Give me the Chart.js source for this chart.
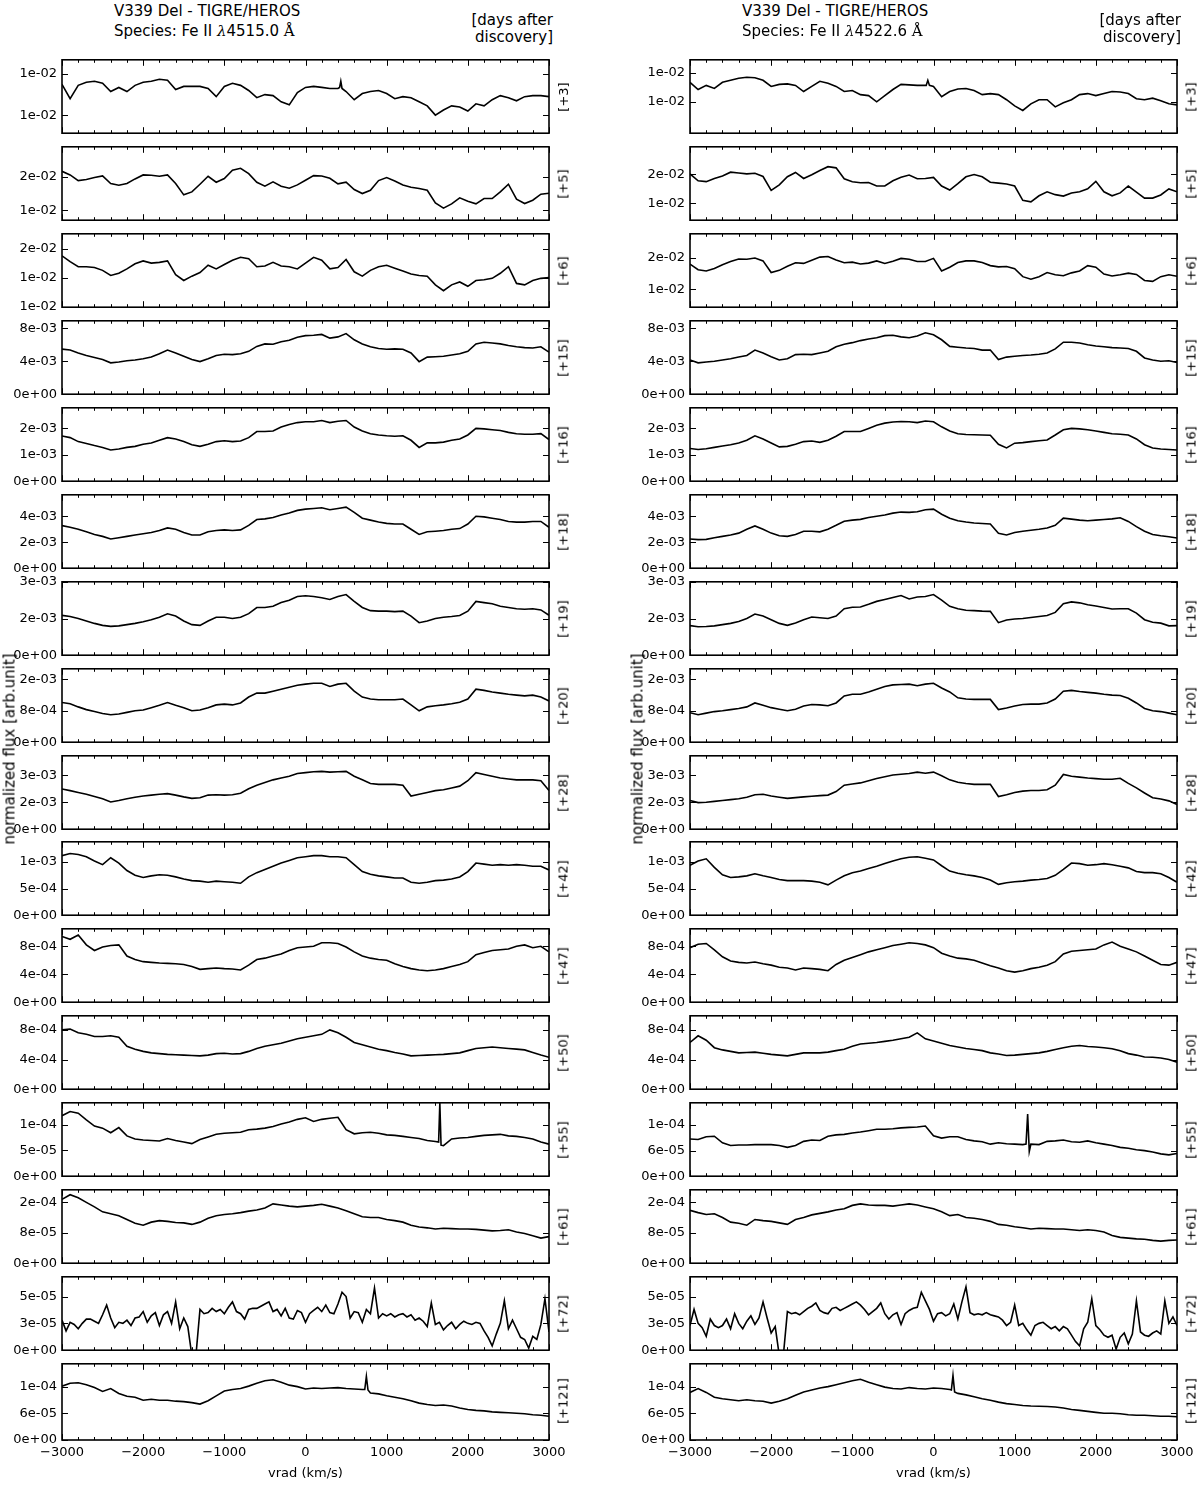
<!DOCTYPE html>
<html>
<head>
<meta charset="utf-8">
<title>V339 Del - Fe II line profiles</title>
<script src="https://cdn.jsdelivr.net/npm/chart.js@4.4.1/dist/chart.umd.min.js"></script>
<style>
  body { margin: 0; background: #fff; }
  #page { position: relative; width: 1200px; height: 1485px; overflow: hidden; font-family: 'DejaVu Sans', sans-serif; color: #000; }
  #page canvas { position: absolute; }
  .txt { position: absolute; white-space: nowrap; line-height: 1; }
  .vert { transform: translate(-50%, -50%) rotate(-90deg); }
</style>
</head>
<body>
<div id="page"></div>
<script>
// ---- sampling grid (radial velocity, km/s) ----
const vrad = [-3000,-2900,-2800,-2700,-2600,-2500,-2400,-2300,-2200,-2100,
  -2000,-1900,-1800,-1700,-1600,-1500,-1400,-1300,-1200,-1100,
  -1000,-900,-800,-700,-600,-500,-400,-300,-200,-100,
  0,100,200,300,400,500,600,700,800,900,
  1000,1100,1200,1300,1400,1500,1600,1700,1800,1900,
  2000,2100,2200,2300,2400,2500,2600,2700,2800,2900,3000];
const vradFine = [-3000,-2950,-2900,-2850,-2800,-2750,-2700,-2650,-2600,-2550,
  -2500,-2450,-2400,-2350,-2300,-2250,-2200,-2150,-2100,-2050,
  -2000,-1950,-1900,-1850,-1800,-1750,-1700,-1650,-1600,-1550,
  -1500,-1450,-1400,-1350,-1300,-1250,-1200,-1150,-1100,-1050,
  -1000,-950,-900,-850,-800,-750,-700,-650,-600,-550,
  -500,-450,-400,-350,-300,-250,-200,-150,-100,-50,
  0,50,100,150,200,250,300,350,400,450,
  500,550,600,650,700,750,800,850,900,950,
  1000,1050,1100,1150,1200,1250,1300,1350,1400,1450,
  1500,1550,1600,1650,1700,1750,1800,1850,1900,1950,
  2000,2050,2100,2150,2200,2250,2300,2350,2400,2450,
  2500,2550,2600,2650,2700,2750,2800,2850,2900,2950,3000];

const days = ['+3','+5','+6','+15','+16','+18','+19','+20','+28','+42','+47','+50','+55','+61','+72','+121'];

// ---- Fe II 4515.0 (left column), flux in panel units ----
const fe4515_d3 = [13.0,11.6,12.9,13.2,13.3,13.1,12.3,12.7,12.3,12.9,13.2,13.3,13.5,13.4,12.5,12.8,12.8,12.8,12.6,11.8,12.8,13.1,12.9,12.4,11.7,12.0,11.9,11.3,11.0,12.2,12.7,12.8,12.7,12.6,12.6,12.3,11.5,12.1,12.3,12.4,12.1,11.6,11.8,11.7,11.3,10.9,10.0,10.5,10.9,10.8,10.4,11.1,10.9,11.5,11.9,11.7,11.4,11.8,11.9,11.9,11.8];
const fe4515_d5 = [21.7,20.6,18.9,19.2,19.8,20.3,18.0,17.5,18.0,19.4,20.6,20.5,20.2,20.6,18.0,14.6,15.5,17.8,20.2,18.4,19.5,22.0,22.6,21.0,18.4,17.2,18.5,17.2,16.6,17.6,19.0,20.4,20.3,19.6,17.9,18.4,16.2,15.0,16.0,18.9,19.8,18.8,17.6,16.9,16.5,16.0,12.2,10.6,11.9,13.7,12.7,11.9,13.5,13.5,15.5,17.8,13.3,12.0,13.0,14.8,15.1];
const fe4515_d6 = [15.5,15.1,14.75,14.75,14.7,14.5,14.15,14.3,14.6,14.95,15.15,15.0,15.05,15.15,14.2,13.8,14.1,14.35,14.85,14.6,14.9,15.2,15.4,15.3,14.75,14.8,15.05,14.8,14.75,14.6,15.0,15.4,15.2,14.6,14.7,15.25,14.4,14.1,14.5,14.75,14.85,14.65,14.45,14.25,14.15,14.1,13.5,13.1,13.5,13.7,13.4,13.8,13.85,13.95,14.3,14.75,13.6,13.5,13.8,13.95,14.0];
const fe4515_d15 = [5.47,5.35,5.0,4.7,4.45,4.2,3.8,3.9,4.05,4.15,4.3,4.5,4.9,5.35,5.0,4.6,4.2,3.95,4.3,4.7,4.85,4.8,4.9,5.2,5.8,6.1,6.05,6.35,6.55,6.9,7.1,7.15,7.25,6.8,6.95,7.35,6.6,6.1,5.75,5.55,5.45,5.5,5.45,5.0,3.95,4.5,4.55,4.6,4.75,4.9,5.2,6.1,6.3,6.2,6.1,5.9,5.75,5.65,5.6,5.75,5.1];
const fe4515_d16 = [1.71,1.65,1.5,1.43,1.35,1.28,1.18,1.22,1.28,1.32,1.4,1.45,1.55,1.65,1.6,1.5,1.38,1.32,1.4,1.5,1.53,1.5,1.52,1.65,1.88,1.88,1.9,2.05,2.15,2.22,2.25,2.25,2.3,2.22,2.27,2.3,2.05,1.9,1.8,1.75,1.72,1.7,1.72,1.55,1.28,1.45,1.45,1.48,1.55,1.6,1.75,2.0,1.98,1.95,1.92,1.85,1.8,1.78,1.78,1.8,1.58];
const fe4515_d18 = [3.28,3.15,3.0,2.8,2.6,2.45,2.25,2.35,2.45,2.55,2.65,2.75,2.9,3.1,3.0,2.75,2.55,2.55,2.8,2.9,2.95,2.9,2.95,3.3,3.75,3.8,3.9,4.1,4.25,4.45,4.55,4.6,4.65,4.5,4.6,4.7,4.3,3.85,3.7,3.55,3.45,3.4,3.4,3.0,2.6,2.8,2.85,2.9,3.0,3.05,3.4,4.0,3.95,3.85,3.75,3.6,3.55,3.55,3.6,3.6,3.15];
const fe4515_d19 = [1.63,1.58,1.5,1.4,1.3,1.22,1.18,1.2,1.25,1.3,1.37,1.45,1.55,1.69,1.6,1.4,1.25,1.22,1.4,1.55,1.55,1.5,1.55,1.7,1.95,1.95,2.0,2.15,2.25,2.4,2.43,2.4,2.35,2.28,2.4,2.48,2.2,1.95,1.82,1.8,1.8,1.78,1.8,1.6,1.33,1.4,1.5,1.55,1.58,1.62,1.8,2.2,2.15,2.1,2.0,1.95,1.9,1.88,1.9,1.85,1.63];
const fe4515_d20 = [1.01,0.98,0.9,0.83,0.78,0.73,0.7,0.72,0.76,0.8,0.82,0.88,0.94,1.01,0.94,0.88,0.8,0.82,0.88,0.95,0.97,0.95,1.0,1.15,1.25,1.25,1.3,1.35,1.4,1.45,1.48,1.5,1.5,1.42,1.48,1.5,1.3,1.15,1.1,1.08,1.08,1.08,1.1,0.95,0.8,0.9,0.93,0.95,0.98,1.02,1.1,1.35,1.32,1.28,1.25,1.22,1.2,1.18,1.2,1.15,1.05];
const fe4515_d28 = [2.24,2.15,2.05,1.95,1.82,1.7,1.52,1.6,1.7,1.78,1.85,1.9,1.95,1.98,1.9,1.8,1.72,1.75,1.9,1.92,1.9,1.92,2.0,2.25,2.45,2.6,2.75,2.85,2.95,3.1,3.15,3.2,3.22,3.18,3.2,3.22,2.95,2.75,2.55,2.5,2.5,2.5,2.45,1.85,1.95,2.05,2.15,2.2,2.3,2.4,2.7,3.15,3.05,2.95,2.85,2.8,2.75,2.75,2.75,2.7,2.16];
const fe4515_d42 = [1.12,1.16,1.14,1.1,1.02,0.95,1.08,0.98,0.84,0.75,0.71,0.74,0.76,0.75,0.72,0.68,0.65,0.64,0.62,0.64,0.63,0.62,0.6,0.72,0.8,0.86,0.92,0.98,1.03,1.08,1.1,1.12,1.12,1.1,1.1,1.08,0.95,0.82,0.77,0.74,0.72,0.7,0.7,0.62,0.6,0.62,0.65,0.66,0.68,0.72,0.82,0.98,0.96,0.94,0.95,0.94,0.95,0.94,0.92,0.92,0.85];
const fe4515_d47 = [9.4,9.0,9.6,8.2,7.4,7.9,8.1,8.2,6.6,6.1,5.8,5.7,5.6,5.55,5.5,5.4,5.1,4.7,4.8,4.9,4.8,4.75,4.6,5.3,6.1,6.3,6.6,6.9,7.4,7.8,7.9,8.0,8.5,8.5,8.4,7.9,7.2,6.6,6.3,6.1,6.0,5.5,5.1,4.8,4.6,4.5,4.6,4.8,5.1,5.4,5.8,6.8,7.1,7.4,7.5,7.6,8.0,8.2,7.8,8.0,7.2];
const fe4515_d50 = [8.0,8.1,7.6,7.4,7.1,7.1,7.2,7.0,5.8,5.4,5.1,4.9,4.8,4.7,4.65,4.6,4.55,4.5,4.6,4.8,4.85,4.75,4.8,5.1,5.5,5.8,6.0,6.2,6.5,6.8,7.0,7.2,7.4,8.0,7.6,7.0,6.3,6.0,5.7,5.4,5.2,4.95,4.75,4.5,4.55,4.6,4.65,4.7,4.8,4.9,5.2,5.5,5.6,5.7,5.6,5.5,5.4,5.3,4.95,4.6,4.3];
const fe4515_d55 = [11.7,12.5,12.2,10.9,9.7,9.3,8.4,9.4,7.8,7.2,7.0,6.9,6.8,7.3,6.9,6.6,6.3,7.1,7.6,8.1,8.3,8.4,8.5,9.0,9.1,9.3,9.6,10.1,10.5,11.0,11.3,10.6,11.0,11.2,11.4,9.0,8.2,8.4,8.5,8.3,8.0,7.9,7.7,7.5,7.3,6.9,6.7,5.9,7.2,7.4,7.5,7.7,7.9,8.0,8.1,7.8,7.7,7.5,7.2,6.6,6.2];
const fe4515_d61 = [1.68,1.8,1.72,1.6,1.48,1.35,1.3,1.25,1.15,1.05,1.0,1.08,1.12,1.1,1.07,1.06,1.02,1.08,1.18,1.25,1.28,1.3,1.33,1.37,1.4,1.45,1.56,1.53,1.5,1.48,1.5,1.52,1.55,1.5,1.45,1.38,1.3,1.22,1.2,1.2,1.15,1.12,1.08,1.0,0.95,0.93,0.9,0.92,0.91,0.9,0.9,0.89,0.87,0.85,0.86,0.88,0.82,0.78,0.72,0.66,0.7];
const fe4515_d72 = [2.8,1.8,2.6,2.4,2.0,2.5,2.9,2.9,2.7,2.5,3.3,4.2,3.0,2.1,2.6,2.5,2.8,2.3,3.0,3.1,
  3.6,2.6,3.2,3.5,2.3,3.3,3.6,2.5,4.5,2.0,3.0,2.2,-0.5,-0.5,3.8,3.4,3.5,3.9,3.6,3.8,
  3.4,4.0,4.5,3.6,3.4,2.9,3.8,3.9,3.9,4.1,4.3,4.5,3.6,3.8,3.2,3.9,3.0,2.9,3.7,3.5,
  2.6,3.4,3.7,4.0,3.6,4.2,3.5,3.4,4.3,5.4,5.0,3.0,3.6,3.5,2.6,3.8,3.4,5.8,3.0,3.4,
  3.2,3.4,3.1,3.3,3.4,3.1,3.3,2.8,3.0,2.7,2.2,4.4,2.4,2.6,1.9,2.3,2.6,2.0,2.4,2.7,
  2.5,2.4,2.6,2.5,1.8,1.2,0.4,1.5,2.5,4.6,2.0,2.8,2.0,1.2,1.0,0.2,1.3,1.0,2.4,4.8,1.7];
const fe4515_d121 = [11.1,11.7,11.8,11.4,10.8,10.0,10.6,9.6,9.0,8.8,8.2,8.4,8.2,8.2,8.0,7.9,7.7,7.4,8.1,9.1,10.1,10.4,10.6,11.1,11.7,12.2,12.4,11.9,11.3,11.0,10.5,10.7,10.6,10.7,10.8,10.6,10.5,10.4,9.7,9.5,9.1,8.8,8.5,8.1,7.6,7.3,7.1,7.2,7.0,6.6,6.3,6.1,6.0,5.8,5.7,5.6,5.5,5.4,5.2,5.1,4.9];

// ---- Fe II 4522.6 (right column) ----
const fe4522_d3 = [11.9,11.2,11.6,11.3,11.9,12.1,12.3,12.4,12.35,12.1,11.5,11.7,11.75,11.6,11.0,11.5,12.0,11.8,11.5,11.0,11.1,10.7,10.6,10.0,10.6,11.2,11.7,11.65,11.6,11.6,11.5,10.5,11.0,11.25,11.3,11.1,10.7,10.8,10.7,10.2,9.6,9.15,9.8,10.2,10.2,9.5,9.9,10.2,10.7,10.8,10.6,10.8,11.0,10.95,10.8,10.3,10.2,10.35,10.1,9.8,9.7];
const fe4522_d5 = [20.2,17.8,17.5,18.6,19.5,20.8,20.5,20.2,20.4,19.3,14.5,16.4,19.2,20.7,18.6,19.9,21.4,22.7,22.3,18.5,17.5,17.1,17.2,16.0,16.0,17.8,19.0,19.8,18.5,18.6,19.0,16.0,14.6,16.8,19.2,20.0,19.2,17.3,17.0,16.7,16.0,11.0,10.5,12.6,14.0,13.0,12.5,13.6,14.0,15.0,17.6,14.0,12.6,13.6,16.0,13.9,11.8,11.8,12.9,15.0,14.0];
const fe4522_d6 = [18.0,16.2,15.8,16.6,17.8,18.8,19.6,19.5,19.9,19.0,15.3,16.0,17.3,18.4,18.2,19.2,20.2,20.4,19.3,18.4,18.6,18.0,18.3,19.0,18.2,18.9,19.8,19.5,18.8,18.8,19.8,15.8,17.0,18.5,19.0,19.0,18.5,17.5,17.1,17.2,16.5,14.0,13.2,14.0,15.3,14.6,14.3,15.2,15.8,17.5,17.0,14.8,14.2,14.6,15.1,14.7,12.8,12.5,14.0,14.6,14.1];
const fe4522_d15 = [4.15,3.8,3.9,4.0,4.15,4.3,4.5,4.7,5.35,5.0,4.55,4.15,4.3,4.8,4.85,4.8,5.0,5.2,5.75,6.05,6.25,6.5,6.7,6.85,7.1,7.15,6.95,6.85,7.05,7.45,7.2,6.6,5.8,5.7,5.6,5.55,5.35,5.35,4.2,4.5,4.6,4.7,4.75,4.85,5.0,5.5,6.3,6.3,6.2,6.0,5.85,5.75,5.65,5.6,5.55,5.2,4.4,4.15,4.0,4.05,3.85];
const fe4522_d16 = [1.24,1.2,1.23,1.28,1.33,1.38,1.45,1.55,1.72,1.6,1.45,1.3,1.32,1.4,1.5,1.52,1.47,1.55,1.7,1.88,1.88,1.88,2.0,2.12,2.2,2.24,2.26,2.25,2.22,2.28,2.25,2.06,1.9,1.8,1.77,1.76,1.75,1.74,1.4,1.26,1.44,1.46,1.5,1.53,1.56,1.75,1.95,2.0,1.98,1.95,1.9,1.85,1.8,1.78,1.75,1.6,1.38,1.26,1.22,1.2,1.18];
const fe4522_d18 = [2.25,2.2,2.22,2.35,2.45,2.55,2.7,3.0,3.25,3.0,2.7,2.5,2.45,2.6,2.85,2.85,2.8,3.0,3.3,3.62,3.7,3.76,3.9,4.0,4.1,4.24,4.32,4.3,4.35,4.5,4.55,4.15,3.85,3.65,3.55,3.48,3.44,3.4,2.68,2.56,2.75,2.85,2.92,3.0,3.1,3.3,3.85,3.78,3.7,3.65,3.7,3.75,3.8,3.88,3.6,3.2,2.85,2.6,2.5,2.42,2.32];
const fe4522_d19 = [1.21,1.16,1.17,1.2,1.25,1.3,1.38,1.5,1.68,1.6,1.45,1.3,1.22,1.32,1.45,1.56,1.53,1.5,1.6,1.9,1.96,1.97,2.08,2.2,2.28,2.36,2.44,2.3,2.38,2.4,2.48,2.25,2.0,1.9,1.84,1.82,1.8,1.79,1.33,1.44,1.48,1.5,1.54,1.58,1.62,1.75,2.1,2.18,2.14,2.06,2.01,1.95,1.89,1.9,1.9,1.72,1.45,1.35,1.31,1.2,1.21];
const fe4522_d20 = [0.75,0.7,0.74,0.78,0.8,0.83,0.86,0.9,1.0,0.94,0.88,0.84,0.8,0.84,0.92,0.96,0.95,0.93,1.0,1.18,1.22,1.22,1.28,1.35,1.42,1.46,1.47,1.48,1.44,1.48,1.5,1.38,1.28,1.13,1.1,1.09,1.09,1.09,0.83,0.87,0.92,0.96,0.97,0.97,1.0,1.1,1.3,1.32,1.29,1.27,1.25,1.22,1.2,1.19,1.12,1.0,0.86,0.8,0.78,0.74,0.7];
const fe4522_d28 = [1.6,1.48,1.5,1.55,1.6,1.65,1.7,1.78,1.92,1.95,1.85,1.78,1.72,1.76,1.8,1.84,1.87,1.9,2.1,2.45,2.52,2.58,2.7,2.82,2.92,3.02,3.06,3.1,3.18,3.12,3.18,2.98,2.75,2.62,2.55,2.5,2.5,2.5,1.82,1.92,2.05,2.12,2.16,2.16,2.2,2.45,3.05,2.95,2.9,2.85,2.82,2.78,2.78,2.84,2.55,2.3,2.02,1.75,1.68,1.58,1.38];
const fe4522_d42 = [0.94,1.02,1.06,0.9,0.76,0.71,0.72,0.74,0.78,0.74,0.71,0.67,0.65,0.65,0.65,0.64,0.62,0.57,0.66,0.74,0.8,0.83,0.88,0.92,0.97,1.02,1.06,1.09,1.1,1.07,1.04,0.93,0.83,0.79,0.76,0.74,0.71,0.66,0.58,0.61,0.63,0.64,0.66,0.67,0.69,0.75,0.86,0.98,0.97,0.94,0.95,0.97,0.95,0.92,0.89,0.82,0.8,0.8,0.78,0.71,0.62];
const fe4522_d47 = [7.8,8.3,8.4,7.5,6.5,5.9,5.7,5.6,5.75,5.5,5.3,5.0,4.9,4.6,4.9,4.8,4.7,4.5,5.4,6.0,6.4,6.8,7.2,7.5,7.8,8.1,8.3,8.5,8.4,8.2,7.8,7.0,6.6,6.3,6.2,6.0,5.6,5.2,4.9,4.5,4.3,4.5,4.8,5.0,5.3,5.8,6.9,7.3,7.4,7.5,7.6,8.2,8.6,8.0,7.6,7.2,6.6,6.0,5.4,5.3,5.7];
const fe4522_d50 = [6.3,7.2,6.6,5.6,5.3,5.1,4.9,4.95,5.0,4.85,4.7,4.6,4.5,4.7,4.9,4.9,4.9,5.0,5.2,5.4,5.8,6.1,6.2,6.3,6.45,6.6,6.8,7.0,7.6,6.8,6.5,6.2,5.9,5.7,5.5,5.35,5.2,4.9,4.75,4.55,4.6,4.7,4.8,4.9,5.1,5.35,5.6,5.8,5.9,5.75,5.7,5.6,5.45,5.2,4.8,4.6,4.35,4.3,4.2,4.0,3.65];
const fe4522_d55 = [8.0,7.9,8.5,8.6,7.2,6.6,6.7,6.7,6.8,6.8,6.8,6.6,6.2,6.6,7.5,7.8,7.7,8.6,8.9,9.0,9.3,9.5,9.8,10.1,10.1,10.2,10.4,10.5,10.6,10.8,8.7,8.2,8.5,8.5,7.9,7.6,7.4,6.9,7.2,7.0,6.9,6.8,6.9,6.8,7.5,7.6,7.8,7.4,7.3,7.6,7.2,6.9,6.6,6.2,6.0,5.7,5.5,5.2,4.8,4.6,4.9];
const fe4522_d61 = [1.39,1.33,1.28,1.3,1.2,1.08,1.05,1.0,1.15,1.12,1.1,1.06,1.02,1.15,1.2,1.27,1.31,1.35,1.4,1.43,1.52,1.56,1.53,1.52,1.52,1.5,1.53,1.56,1.53,1.48,1.43,1.35,1.25,1.28,1.2,1.18,1.15,1.1,1.02,1.0,0.96,0.93,0.9,0.92,0.91,0.9,0.9,0.88,0.86,0.88,0.86,0.82,0.73,0.68,0.66,0.64,0.63,0.6,0.58,0.6,0.61];
const fe4522_d72 = [2.3,3.8,2.5,2.1,1.3,2.9,2.3,2.1,2.3,2.9,2.0,3.4,2.5,2.0,2.7,3.2,2.4,3.0,4.5,3.0,
  1.6,2.2,-0.5,-0.5,3.6,3.4,3.5,3.3,3.6,3.9,4.1,4.4,3.7,3.5,3.4,3.9,4.0,3.7,3.9,4.1,
  4.3,4.5,4.2,3.8,3.3,3.6,3.9,4.4,3.4,2.9,3.3,3.5,2.4,3.4,3.7,3.9,4.0,5.4,4.6,3.8,
  2.7,3.4,3.5,3.2,3.4,4.3,2.9,4.5,5.9,3.5,3.3,3.4,3.3,3.5,3.3,3.2,3.1,2.8,2.3,2.6,
  4.2,2.3,2.5,1.9,1.4,2.3,2.5,2.6,2.3,2.0,2.2,1.8,2.2,2.0,1.4,0.8,0.4,2.0,2.6,4.8,
  2.3,1.9,1.4,1.2,1.4,0.1,1.2,1.6,0.6,1.5,4.6,1.7,1.4,1.3,1.6,1.8,1.5,4.6,2.5,3.1,2.3];
const fe4522_d121 = [9.8,10.6,9.8,8.8,8.5,8.3,8.1,8.3,8.1,8.0,7.6,8.0,8.5,9.2,9.9,10.3,10.7,11.0,11.4,11.8,12.2,12.5,11.9,11.4,10.9,10.6,10.5,10.8,10.6,10.5,10.7,10.6,10.4,9.6,9.3,8.9,8.5,8.2,7.8,7.5,7.3,7.1,7.0,6.95,6.9,6.8,6.6,6.3,6.1,5.9,5.7,5.5,5.5,5.4,5.2,5.1,5.1,5.0,4.9,4.9,4.8];

// ---- narrow spikes (velocity, flux) ----
const spike4515_d3_v = [420, 435, 450],    spike4515_d3_f = [12.7, 13.3, 12.6];
const spike4515_d55_v = [1640, 1655, 1670], spike4515_d55_f = [6.6, 14.2, 6.0];
const spike4515_d121_v = [730, 750, 770],  spike4515_d121_f = [10.4, 13.1, 10.3];
const spike4522_d3_v = [-90, -70, -50],    spike4522_d3_f = [11.6, 12.1, 11.6];
const spike4522_d55_v = [1140, 1160, 1180], spike4522_d55_f = [6.9, 13.4, 5.3];
const spike4522_d121_v = [220, 240, 260],  spike4522_d121_f = [10.3, 13.3, 9.9];

// ---- y axes ----
const yMin4515 = [8.24, 6.98, 11.96, 0, 0, 0, 0, 0, 0, 0, 0, 0, 0, 0, 0, 0];
const yMax4515 = [15.39, 29.06, 17.02, 8.9, 2.78, 5.65, 3.0, 1.87, 4.09, 1.38, 10.5, 9.9, 14.2, 1.93, 6.84, 15.7];
const yMin4522 = [6.93, 4.13, 4.3, 0, 0, 0, 0, 0, 0, 0, 0, 0, 0, 0, 0, 0];
const yMax4522 = [14.1, 29.6, 27.6, 8.9, 2.78, 5.65, 3.0, 1.87, 4.09, 1.38, 10.5, 9.9, 15.8, 1.93, 6.84, 15.7];
const yTicks4515 = [[14,10],[20,10],[16,14,12],[8,4,0],[2,1,0],[4,2,0],[3,1.5,0],[1.6,0.8,0],[3,1.5,0],[1,0.5,0],[8,4,0],[8,4,0],[10,5,0],[1.6,0.8,0],[5,2.5,0],[11,5.5,0]];
const yTicks4522 = [[12.8,10],[20,10],[20,10],[8,4,0],[2,1,0],[4,2,0],[3,1.5,0],[1.6,0.8,0],[3,1.5,0],[1,0.5,0],[8,4,0],[8,4,0],[11,5.5,0],[1.6,0.8,0],[5,2.5,0],[11,5.5,0]];
const yLabels4515 = [['1e-02','1e-02'],['2e-02','1e-02'],['2e-02','1e-02','1e-02'],['8e-03','4e-03','0e+00'],['2e-03','1e-03','0e+00'],['4e-03','2e-03','0e+00'],['3e-03','2e-03','0e+00'],['2e-03','8e-04','0e+00'],['3e-03','2e-03','0e+00'],['1e-03','5e-04','0e+00'],['8e-04','4e-04','0e+00'],['8e-04','4e-04','0e+00'],['1e-04','5e-05','0e+00'],['2e-04','8e-05','0e+00'],['5e-05','3e-05','0e+00'],['1e-04','6e-05','0e+00']];
const yLabels4522 = [['1e-02','1e-02'],['2e-02','1e-02'],['2e-02','1e-02'],['8e-03','4e-03','0e+00'],['2e-03','1e-03','0e+00'],['4e-03','2e-03','0e+00'],['3e-03','2e-03','0e+00'],['2e-03','8e-04','0e+00'],['3e-03','2e-03','0e+00'],['1e-03','5e-04','0e+00'],['8e-04','4e-04','0e+00'],['8e-04','4e-04','0e+00'],['1e-04','6e-05','0e+00'],['2e-04','8e-05','0e+00'],['5e-05','3e-05','0e+00'],['1e-04','6e-05','0e+00']];

const xTicks = [-3000, -2000, -1000, 0, 1000, 2000, 3000];
const xTickLabels = ['\u22123000', '\u22122000', '\u22121000', '0', '1000', '2000', '3000'];

// ---- assemble ----
const FONT = "'DejaVu Sans', sans-serif";
Chart.defaults.font.family = FONT;

function pts(xs, ys, sv, sf) {
  const p = xs.map((x, i) => ({x: x, y: ys[i]}));
  if (sv) sv.forEach((x, i) => p.push({x: x, y: sf[i]}));
  return p.sort((a, b) => a.x - b.x);
}

const columns = [
  {
    wl: '4515.0', left: 62, right: 549,
    series: [
      pts(vrad, fe4515_d3, spike4515_d3_v, spike4515_d3_f), pts(vrad, fe4515_d5), pts(vrad, fe4515_d6),
      pts(vrad, fe4515_d15), pts(vrad, fe4515_d16), pts(vrad, fe4515_d18), pts(vrad, fe4515_d19),
      pts(vrad, fe4515_d20), pts(vrad, fe4515_d28), pts(vrad, fe4515_d42), pts(vrad, fe4515_d47),
      pts(vrad, fe4515_d50), pts(vrad, fe4515_d55, spike4515_d55_v, spike4515_d55_f), pts(vrad, fe4515_d61),
      pts(vradFine, fe4515_d72), pts(vrad, fe4515_d121, spike4515_d121_v, spike4515_d121_f)
    ],
    yMin: yMin4515, yMax: yMax4515, yTicks: yTicks4515, yLabels: yLabels4515
  },
  {
    wl: '4522.6', left: 690, right: 1177,
    series: [
      pts(vrad, fe4522_d3, spike4522_d3_v, spike4522_d3_f), pts(vrad, fe4522_d5), pts(vrad, fe4522_d6),
      pts(vrad, fe4522_d15), pts(vrad, fe4522_d16), pts(vrad, fe4522_d18), pts(vrad, fe4522_d19),
      pts(vrad, fe4522_d20), pts(vrad, fe4522_d28), pts(vrad, fe4522_d42), pts(vrad, fe4522_d47),
      pts(vrad, fe4522_d50), pts(vrad, fe4522_d55, spike4522_d55_v, spike4522_d55_f), pts(vrad, fe4522_d61),
      pts(vradFine, fe4522_d72), pts(vrad, fe4522_d121, spike4522_d121_v, spike4522_d121_f)
    ],
    yMin: yMin4522, yMax: yMax4522, yTicks: yTicks4522, yLabels: yLabels4522
  }
];

// box with inward ticks, matplotlib style
const frame = {
  id: 'frame',
  afterDraw(chart, args, opts) {
    const ctx = chart.ctx, a = chart.chartArea;
    const x = chart.scales.x, y = chart.scales.y;
    ctx.save();
    ctx.strokeStyle = '#000';
    ctx.lineWidth = 1;
    ctx.beginPath();
    for (let v = -3000; v <= 3000; v += 200) {
      const px = Math.round(x.getPixelForValue(v)) + 0.5;
      const len = v % 1000 === 0 ? 6 : 3;
      ctx.moveTo(px, a.bottom); ctx.lineTo(px, a.bottom - len);
      ctx.moveTo(px, a.top); ctx.lineTo(px, a.top + len);
    }
    opts.ticks.forEach(v => {
      const py = Math.round(y.getPixelForValue(v)) + 0.5;
      ctx.moveTo(a.left, py); ctx.lineTo(a.left + 6, py);
      ctx.moveTo(a.right, py); ctx.lineTo(a.right - 6, py);
    });
    ctx.stroke();
    ctx.lineWidth = 1.6;
    ctx.strokeRect(a.left, a.top, a.right - a.left, a.bottom - a.top);
    ctx.restore();
  }
};

const page = document.getElementById('page');
function addText(html, css, cls) {
  const d = document.createElement('div');
  d.className = 'txt' + (cls ? ' ' + cls : '');
  d.innerHTML = html;
  Object.assign(d.style, css);
  page.appendChild(d);
  return d;
}

const PANEL_TOP = 57.3, PANEL_STEP = 86.9, PANEL_H = 79;
const Y_AXIS_W = 60, PAD = 10, PAD_R = 30, X_AXIS_H = 30;

columns.forEach(col => {
  const plotW = col.right - col.left;
  col.series.forEach((data, i) => {
    const top = Math.round(PANEL_TOP + i * PANEL_STEP);
    const last = i === col.series.length - 1;
    const cv = document.createElement('canvas');
    cv.width = Y_AXIS_W + plotW + PAD_R;
    cv.height = PAD + PANEL_H + (last ? X_AXIS_H : PAD);
    cv.style.left = (col.left - Y_AXIS_W) + 'px';
    cv.style.top = (top - PAD) + 'px';
    page.appendChild(cv);
    const ticks = col.yTicks[i], labels = col.yLabels[i];
    new Chart(cv, {
      type: 'line',
      data: {datasets: [{
        data: data, borderColor: '#000', borderWidth: 1.6,
        pointRadius: 0, tension: 0, fill: false, clip: 0
      }]},
      options: {
        responsive: false, animation: false, devicePixelRatio: 1,
        parsing: false, normalized: true,
        layout: {padding: {top: PAD, bottom: last ? 0 : PAD, left: 0, right: PAD_R}},
        plugins: {legend: {display: false}, tooltip: {enabled: false}, frame: {ticks: ticks}},
        scales: {
          x: {
            type: 'linear', min: -3000, max: 3000, display: last,
            grid: {display: false, drawTicks: false}, border: {display: false},
            afterBuildTicks: s => { s.ticks = xTicks.map(v => ({value: v})); },
            afterFit: s => { s.height = last ? X_AXIS_H : 0; },
            ticks: {
              color: '#000', font: {size: 13}, padding: 5,
              maxRotation: 0, autoSkip: false,
              callback: (v, k) => xTickLabels[k]
            }
          },
          y: {
            type: 'linear', min: col.yMin[i], max: col.yMax[i],
            grid: {display: false, drawTicks: false}, border: {display: false},
            afterBuildTicks: s => { s.ticks = ticks.map(v => ({value: v})); },
            afterFit: s => { s.width = Y_AXIS_W; },
            ticks: {
              color: '#000', font: {size: 13}, padding: 5, autoSkip: false,
              callback: (v, k) => labels[k]
            }
          }
        }
      },
      plugins: [frame]
    });

    addText('[' + days[i] + ']', {left: (col.right + 14) + 'px', top: (top + PANEL_H / 2) + 'px', fontSize: '13px'}, 'vert');
  });

  // headers and axis titles
  addText('V339 Del - TIGRE/HEROS', {left: (col.left + 52) + 'px', top: '4px', fontSize: '15px'});
  addText('Species: Fe II <i style="font-family:\'DejaVu Serif\',serif">\u03bb</i>' + col.wl +
    ' <span style="font-family:\'DejaVu Serif\',serif">\u00c5</span>',
    {left: (col.left + 52) + 'px', top: '24px', fontSize: '15px'});
  addText('[days after<br>discovery]', {left: (col.right - 196) + 'px', width: '200px', textAlign: 'right',
    top: '12px', fontSize: '15px', lineHeight: '17px'});
  addText('normalized flux [arb.unit]', {left: (col.left - 52) + 'px', top: '749px', fontSize: '15px'}, 'vert');
  addText('vrad (km/s)', {left: ((col.left + col.right) / 2) + 'px', top: '1466px', fontSize: '13px',
    transform: 'translateX(-50%)'});
});
</script>
</body>
</html>
